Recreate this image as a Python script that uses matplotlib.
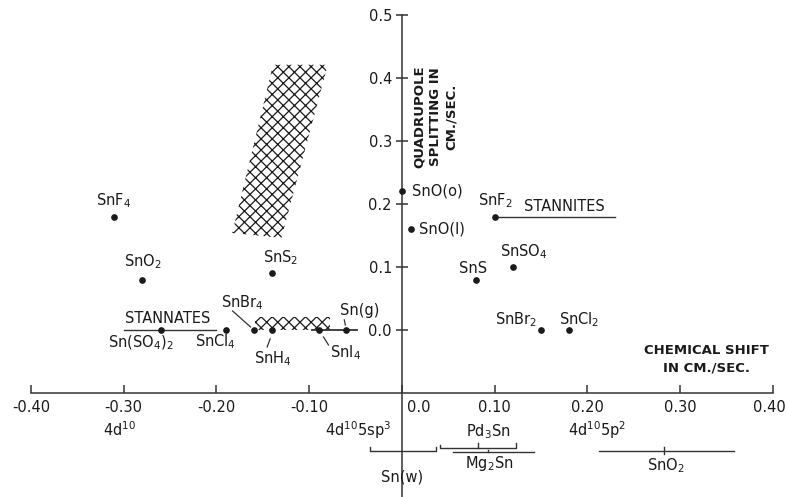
import matplotlib
matplotlib.use("Agg")
import matplotlib.pyplot as plt
from matplotlib.patches import Polygon, Rectangle

plt.rcParams["font.family"] = "DejaVu Sans"
plt.rcParams["mathtext.default"] = "regular"
plt.rcParams["hatch.linewidth"] = 0.9

INK = "#1a1a1a"
LINE = "#333333"

# ---- tin(IV) compounds: isomer shift vs quadrupole splitting (cm/sec)
stannic_names = ["SnF$_4$", "SnO$_2$", "SnS$_2$", "Sn(SO$_4$)$_2$", "SnCl$_4$",
                 "SnBr$_4$", "SnH$_4$", "SnI$_4$", "Sn(g)"]
stannic_shift = [-0.31, -0.28, -0.14, -0.26, -0.19, -0.16, -0.14, -0.09, -0.06]
stannic_split = [0.18, 0.08, 0.09, 0.0, 0.0, 0.0, 0.0, 0.0, 0.0]

# ---- tin(II) compounds
stannous_names = ["SnO(o)", "SnO(l)", "SnF$_2$", "SnSO$_4$", "SnS", "SnBr$_2$", "SnCl$_2$"]
stannous_shift = [0.0, 0.01, 0.10, 0.12, 0.08, 0.15, 0.18]
stannous_split = [0.22, 0.16, 0.18, 0.10, 0.08, 0.0, 0.0]

# stannate / stannite ranges
stannates_range = [-0.30, -0.20]
stannites_range = [0.10, 0.23]
sn_gas_range = [-0.097, -0.049]

# hatched regions
broad_shift = [-0.183, -0.130, -0.080, -0.139]
broad_split = [0.154, 0.146, 0.421, 0.421]
band_shift = [-0.158, -0.078]
band_split = [0.0, 0.02]

# shifts of metals / alloys (low, centre, high)
alloy_names = ["Sn(w)", "Pd$_3$Sn", "Mg$_2$Sn", "SnO$_2$"]
alloy_low = [-0.035, 0.041, 0.055, 0.212]
alloy_mid = [0.0, 0.082, 0.093, 0.282]
alloy_high = [0.037, 0.123, 0.142, 0.358]

# electron configurations
config_labels = ["4d$^{10}$", "4d$^{10}$5sp$^3$", "4d$^{10}$5p$^2$"]
config_shift = [-0.322, -0.083, 0.179]

x_ticks = [-0.40, -0.30, -0.20, -0.10, 0.0, 0.10, 0.20, 0.30, 0.40]
x_tick_labels = ["-0.40", "-0.30", "-0.20", "-0.10", "0.0", "0.10", "0.20", "0.30", "0.40"]
y_ticks = [0.0, 0.1, 0.2, 0.3, 0.4, 0.5]
y_tick_labels = ["0.0", "0.1", "0.2", "0.3", "0.4", "0.5"]

W, H = 787, 497
xmin, xmax = -0.4334, 0.4151
ymin, ymax = -0.2651, 0.5238
sx = (xmax - xmin) / W   # data units per pixel
sy = (ymax - ymin) / H

fig = plt.figure(figsize=(W / 100, H / 100), dpi=100)
ax = fig.add_axes([0, 0, 1, 1])
ax.set_xlim(xmin, xmax)
ax.set_ylim(ymin, ymax)
ax.patch.set_alpha(0)

# axes drawn through the data origin
for side in ["top", "right"]:
    ax.spines[side].set_visible(False)
ax.spines["left"].set_position(("data", 0.0))
ax.spines["left"].set_bounds(ymin, 0.5)
ax.spines["bottom"].set_position(("data", -0.1))
ax.spines["bottom"].set_bounds(-0.40, 0.40)
for side in ["left", "bottom"]:
    ax.spines[side].set_color(LINE)
    ax.spines[side].set_linewidth(1.1)

# 0.0 and 0.40 are placed by hand (off the axis line / against the edge)
ax.set_xticks(x_ticks)
ax.set_xticklabels(["" if t in ("0.0", "0.40") else t for t in x_tick_labels])
ax.set_yticks(y_ticks)
ax.set_yticklabels(y_tick_labels)
ax.tick_params(axis="x", direction="in", length=6, width=1.1, color=LINE,
               pad=5, labelsize=10.5, labelcolor=INK)
ax.tick_params(axis="y", direction="inout", length=8.5, width=1.1, color=LINE,
               pad=3, labelsize=10.5, labelcolor=INK)
ax.text(0.0 + 5 * sx, -0.1 - 7 * sy, x_tick_labels[4], ha="left", va="top",
        fontsize=10.5, color=INK)
ax.text(xmax - 1 * sx, -0.1 - 7 * sy, x_tick_labels[-1], ha="right", va="top",
        fontsize=10.5, color=INK)

# hatched regions
ax.add_patch(Polygon(list(zip(broad_shift, broad_split)), closed=True,
                     facecolor="none", edgecolor=INK, linewidth=0, hatch="xxx"))
ax.add_patch(Rectangle((band_shift[0], band_split[0]), band_shift[1] - band_shift[0],
                       band_split[1] - band_split[0], facecolor="none",
                       edgecolor=INK, linewidth=0, hatch="xxx"))

# range lines
ax.plot(stannates_range, [0.0, 0.0], color=LINE, lw=1.0)
ax.plot(stannites_range, [0.18, 0.18], color=LINE, lw=1.0)
ax.plot(sn_gas_range, [0.0, 0.0], color=LINE, lw=1.3)

# points
ax.plot(stannic_shift, stannic_split, "o", color=INK, ms=3.8, zorder=5)
ax.plot(stannous_shift, stannous_split, "o", color=INK, ms=3.8, zorder=5)

# label offsets in pixels (dx, dy) and alignment
stannic_offsets = [(-18, 11), (-18, 13), (-9, 11), (-53, -17), (-31, -16),
                   (-33, 23), (-18, -33), (11, -27), (-6, 15)]
stannous_offsets = [(10, 0), (8, 0), (-17, 11), (-13, 11), (-17, 7), (-46, 6), (-10, 6)]
stannous_va = ["center", "center", "baseline", "baseline", "baseline", "baseline", "baseline"]

for name, x, y, (dx, dy) in zip(stannic_names, stannic_shift, stannic_split, stannic_offsets):
    ax.annotate(name, (x, y), xytext=(dx, dy), textcoords="offset pixels",
                ha="left", va="baseline", fontsize=10.5, color=INK)
for name, x, y, (dx, dy), va in zip(stannous_names, stannous_shift, stannous_split,
                                    stannous_offsets, stannous_va):
    ax.annotate(name, (x, y), xytext=(dx, dy), textcoords="offset pixels",
                ha="left", va=va, fontsize=10.5, color=INK)

# leader lines for the crowded labels (pixel offsets from the point)
leaders = {5: (-3, 3, -21, 19), 6: (-2, -9, -5, -17), 7: (5, -7, 10, -15), 8: (-2, 10, -1, 5)}
for i, (x1, y1, x2, y2) in leaders.items():
    x, y = stannic_shift[i], stannic_split[i]
    ax.plot([x + x1 * sx, x + x2 * sx], [y + y1 * sy, y + y2 * sy], color=LINE, lw=0.9)

ax.text(-0.2987, 0.0116, "STANNATES", ha="left", va="baseline", fontsize=10.5, color=INK)
ax.text(0.1315, 0.189, "STANNITES", ha="left", va="baseline", fontsize=10.5, color=INK)

# axis titles
ax.text(0.0365, 0.339, "QUADRUPOLE\nSPLITTING IN\nCM./SEC.", rotation=90,
        ha="center", va="center", multialignment="center", linespacing=1.3,
        fontsize=9.5, fontweight="bold", color=INK)
ax.text(0.328, -0.046, "CHEMICAL SHIFT\nIN CM./SEC.", ha="center", va="center",
        multialignment="center", linespacing=1.45, fontsize=9.5,
        fontweight="bold", color=INK)

# electron configuration labels under the shift axis
for lab, x in zip(config_labels, config_shift):
    ax.text(x, -0.168, lab, ha="left", va="baseline", fontsize=10.5, color=INK)

# shift ranges of metallic tin, alloys and SnO2
alloy_y = [-0.192, -0.188, -0.194, -0.1916]
alloy_label_pos = [(0.0, -0.241, "center"), (0.069, -0.169, "left"),
                   (0.068, -0.219, "left"), (0.264, -0.222, "left")]
for name, lo, mid, hi, y, (tx, ty, ha) in zip(alloy_names, alloy_low, alloy_mid,
                                              alloy_high, alloy_y, alloy_label_pos):
    if name == "Sn(w)":
        ax.plot([lo, lo, hi, hi], [y + 4 * sy, y, y, y + 4 * sy], color=LINE, lw=1.0)
    elif name.startswith("Pd"):
        ax.plot([lo, lo, hi, hi], [y + 3 * sy, y, y, y + 5 * sy], color=LINE, lw=1.0)
        ax.plot([mid, mid], [y, y + 5 * sy], color=LINE, lw=1.0)
    elif name.startswith("Mg"):
        ax.plot([lo, hi], [y, y], color=LINE, lw=1.0)
        ax.plot([mid, mid], [y, y + 2 * sy], color=LINE, lw=1.0)
    else:
        ax.plot([lo, hi], [y, y], color=LINE, lw=1.0)
        ax.plot([mid, mid], [y - 3 * sy, y + 4 * sy], color=LINE, lw=1.0)
    ax.text(tx, ty, name, ha=ha, va="baseline", fontsize=10.5, color=INK)

fig.savefig("out.png", dpi=100, facecolor="white")
